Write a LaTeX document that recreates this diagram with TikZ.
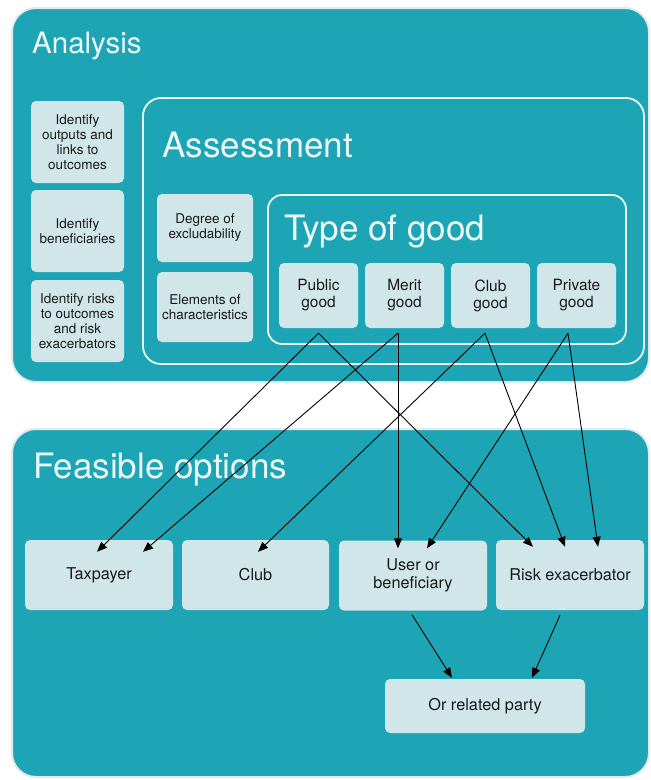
\documentclass[tikz,border=0pt]{standalone}
\usepackage{fontspec}
\setmainfont{TeX Gyre Heros}
\usetikzlibrary{arrows.meta}
\definecolor{panelteal}{RGB}{29,165,182}
\definecolor{cellfill}{RGB}{208,230,233}
\definecolor{titlewhite}{RGB}{236,247,248}
\definecolor{rimgray}{RGB}{226,234,236}

\begin{document}
\begin{tikzpicture}[x=1pt,y=1pt,yscale=-1,xscale=1,
  panel/.style={fill=panelteal,draw=rimgray,line width=2pt,rounded corners=24pt},
  frame/.style={draw=titlewhite,line width=1.8pt,rounded corners=#1},
  cell/.style={fill=cellfill,rounded corners=5pt,inner sep=1pt,align=center,text=black!90},
  small/.style={font=\fontsize{13.5}{15}\selectfont},
  mid/.style={font=\fontsize{15.5}{17}\selectfont},
  big/.style={font=\fontsize{16.3}{17.5}\selectfont},
  title/.style={anchor=base west,inner sep=0pt,text=titlewhite},
  link/.style={-{Triangle[length=10pt,width=8pt]},line width=0.9pt,black}]
  \useasboundingbox (0,0) rectangle (651,780);

  %Shape: Rectangle [Analysis]
  \draw [panel] (12,8) rectangle (649,382);
  %Shape: Rectangle [Feasible options]
  \draw [panel] (12,429) rectangle (649,777);
  %Shape: Rectangle [Assessment]
  \draw [frame=18pt] (143,98) rectangle (644,364);
  %Shape: Rectangle [Type of good]
  \draw [frame=14pt] (268,195) rectangle (626,344);

  % Text Node
  \node [title,font=\fontsize{29.5}{30}\selectfont] (analysis) at (32,53) {Analysis};
  % Text Node
  \node [title,font=\fontsize{35}{36}\selectfont] (assess) at (162,157) {Assessment};
  % Text Node
  \node [title,font=\fontsize{35}{36}\selectfont] (typegood) at (284,240) {Type of good};
  % Text Node
  \node [title,font=\fontsize{35}{36}\selectfont] (feasible) at (33,478) {Feasible options};

  % Analysis cells
  \node [cell,small,minimum width=93,minimum height=82] (outputs) at (77.5,142) {Identify\\outputs and\\links to\\outcomes};
  \node [cell,small,minimum width=93,minimum height=82] (benef) at (77.5,231) {Identify\\beneficiaries};
  \node [cell,small,minimum width=93,minimum height=82] (risks) at (77.5,321) {Identify risks\\to outcomes\\and risk\\exacerbators};

  % Assessment cells
  \node [cell,small,minimum width=96,minimum height=68] (degree) at (205,228) {Degree of\\excludability};
  \node [cell,small,minimum width=96,minimum height=70] (elements) at (205,307) {Elements of\\characteristics};

  % Goods
  \node [cell,mid,minimum width=79,minimum height=65] (pub) at (318.5,295.5) {Public\\good};
  \node [cell,mid,minimum width=79,minimum height=65] (mer) at (404.5,295.5) {Merit\\good};
  \node [cell,mid,minimum width=79,minimum height=65] (clu) at (490.5,295.5) {Club\\good};
  \node [cell,mid,minimum width=79,minimum height=65] (pri) at (576.5,295.5) {Private\\good};

  % Options
  \node [cell,big,minimum width=148,minimum height=70] (tax) at (99,575) {Taxpayer};
  \node [cell,big,minimum width=147,minimum height=70] (club) at (255.5,575) {Club};
  \node [cell,big,minimum width=148,minimum height=70] (user) at (413,575.5) {User or\\beneficiary};
  \node [cell,big,minimum width=148,minimum height=70] (riskx) at (570,575) {Risk exacerbator};
  \node [cell,big,minimum width=200,minimum height=54] (party) at (485,706) {Or related party};

  %Straight Lines
  \draw [link] ([yshift=5pt]pub.south) -- ([xshift=-2pt,yshift=12pt]tax.north);
  \draw [link] ([yshift=5pt]pub.south) -- ([xshift=-37pt,yshift=7pt]riskx.north);
  \draw [link] ([xshift=-6.5pt,yshift=5pt]mer.south) -- ([xshift=44pt,yshift=12pt]tax.north);
  \draw [link] ([xshift=-6.5pt,yshift=5pt]mer.south) -- ([xshift=-15pt,yshift=8pt]user.north);
  \draw [link] ([xshift=-5.5pt,yshift=5pt]clu.south) -- ([xshift=2.5pt,yshift=12pt]club.north);
  \draw [link] ([xshift=-5.5pt,yshift=5pt]clu.south) -- ([xshift=-5pt,yshift=7pt]riskx.north);
  \draw [link] ([xshift=-8.5pt,yshift=5pt]pri.south) -- ([xshift=14pt,yshift=8pt]user.north);
  \draw [link] ([xshift=-8.5pt,yshift=5pt]pri.south) -- ([xshift=28pt,yshift=7pt]riskx.north);
  \draw [link] ([xshift=-1pt,yshift=4pt]user.south) -- ([xshift=-33pt,yshift=-1pt]party.north);
  \draw [link] ([xshift=-10pt,yshift=5pt]riskx.south) -- ([xshift=47pt,yshift=-1pt]party.north);

\end{tikzpicture}
\end{document}
